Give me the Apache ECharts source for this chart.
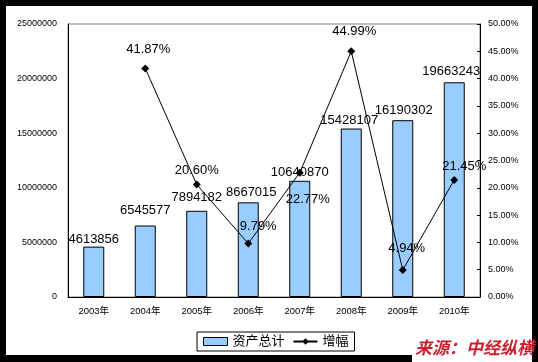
<!DOCTYPE html>
<html>
<head>
<meta charset="utf-8">
<script src="https://cdn.jsdelivr.net/npm/echarts@6/dist/echarts.min.js"></script>
<style>
html,body{margin:0;padding:0;background:#000;}
#c{width:538px;height:362px;}
</style>
</head>
<body>
<div id="c"></div>
<script>
// ---- data ----
var categories = ['2003年','2004年','2005年','2006年','2007年','2008年','2009年','2010年'];
var totalAssets = [4613856, 6545577, 7894182, 8667015, 10640870, 15428107, 16190302, 19663243];
var growthPct = [null, 41.87, 20.60, 9.79, 22.77, 44.99, 4.94, 21.45];
var seriesNames = ['资产总计', '增幅'];
var sourceText = '来源：中经纵横';

// ---- label placement tweaks (style, not data) ----
var barLabelOffsets = [[0,2],[0,-6],[0,-4],[3,0],[0,1],[-2,1],[1,0],[-3,-1]];
var lineLabelPlace = [
  null,
  {position:'top', offset:[3,-3]},
  {position:'top', offset:[0,1]},
  {position:'top', offset:[10,-2]},
  {position:'bottom', offset:[8,11]},
  {position:'top', offset:[3,-4]},
  {position:'top', offset:[4,-6]},
  {position:'top', offset:[10,2]}
];

var FONT = '"Liberation Sans", Arial, "Noto Sans CJK SC", sans-serif';

var barData = totalAssets.map(function (v, i) {
  return { value: v, label: { offset: barLabelOffsets[i] } };
});
var lineData = growthPct.map(function (v, i) {
  if (v === null) return null;
  var p = lineLabelPlace[i];
  return { value: v, label: { position: p.position, offset: p.offset } };
});

var chart = echarts.init(document.getElementById('c'), null, {renderer:'canvas'});
chart.setOption({
  backgroundColor: '#000',
  animation: false,
  textStyle: { fontFamily: FONT },
  graphic: [
    { type:'rect', z:-10, shape:{x:6,y:6,width:526,height:349}, style:{fill:'#fff'} },
    { type:'rect', z:-9, shape:{x:412,y:338,width:120,height:24}, style:{fill:'#fff'} },
    { type:'text', left:415, top:339, z:10,
      style:{ text: sourceText, fill:'#cc1f2e', font:'italic bold 17px "Noto Sans CJK SC", sans-serif' } }
  ],
  grid: { left:68, right:58, top:24, bottom:65, show:true, borderColor:'#808080', borderWidth:1, backgroundColor:'transparent' },
  legend: {
    left:197, top:332,
    borderColor:'#000', borderWidth:1, borderRadius:0,
    padding:[3,6,3,6], itemGap:8, itemWidth:24, itemHeight:8,
    textStyle:{ fontSize:13, color:'#000', fontFamily: FONT },
    data:[
      { name: seriesNames[0], icon:'rect', itemStyle:{ color:'#99ccff', borderColor:'#000', borderWidth:1 } },
      { name: seriesNames[1] }
    ]
  },
  xAxis: {
    type:'category', data: categories,
    axisLine:{ lineStyle:{ color:'#000', width:1 } },
    axisTick:{ inside:true, length:3, lineStyle:{ color:'#000' } },
    axisLabel:{ color:'#000', fontSize:9.5, margin:10, fontFamily: FONT }
  },
  yAxis: [
    { type:'value', min:0, max:25000000, interval:5000000,
      axisLine:{ show:true, lineStyle:{ color:'#000' } },
      axisTick:{ show:false },
      splitLine:{ show:false },
      axisLabel:{ color:'#000', fontSize:9, margin:11, fontFamily: FONT,
        formatter:function(v){ return String(v); } } },
    { type:'value', min:0, max:50, interval:5, position:'right',
      axisLine:{ show:true, lineStyle:{ color:'#000' } },
      axisTick:{ show:true, inside:true, length:3, lineStyle:{ color:'#000' } },
      splitLine:{ show:false },
      axisLabel:{ color:'#000', fontSize:9, margin:8, fontFamily: FONT,
        formatter:function(v){ return v.toFixed(2) + '%'; } } }
  ],
  series: [
    { name: seriesNames[0], type:'bar', yAxisIndex:0, data: barData,
      barWidth:21,
      itemStyle:{ color:'#99ccff', borderColor:'#000', borderWidth:1 },
      label:{ show:true, position:'top', distance:3, color:'#000', fontSize:13, fontFamily: FONT } },
    { name: seriesNames[1], type:'line', yAxisIndex:1, data: lineData,
      connectNulls:false,
      symbol:'diamond', symbolSize:8, showAllSymbol:true,
      lineStyle:{ color:'#000', width:1 },
      itemStyle:{ color:'#000' },
      label:{ show:true, position:'top', distance:5, color:'#000', fontSize:13, fontFamily: FONT,
        formatter:function(p){ return p.value.toFixed(2) + '%'; } },
      z:5 }
  ]
});
</script>
</body>
</html>
